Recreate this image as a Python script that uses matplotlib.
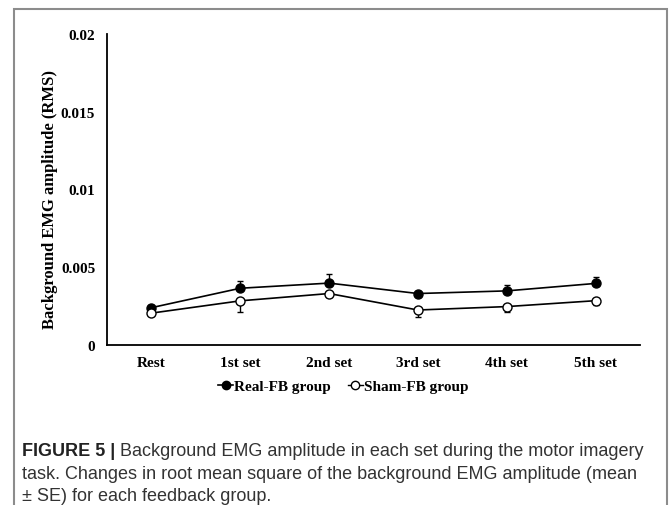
import matplotlib.pyplot as plt
from matplotlib.patches import Rectangle
from matplotlib.lines import Line2D

W, H = 669, 506

# Données
sets = ["Rest", "1st set", "2nd set", "3rd set", "4th set", "5th set"]
real_fb = [0.0024, 0.00365, 0.00398, 0.00331, 0.00348, 0.00396]
sham_fb = [0.00205, 0.00284, 0.00331, 0.00225, 0.00247, 0.00285]
real_err = [0.00015, 0.00045, 0.0006, 0.0001, 0.00037, 0.0004]
sham_err = [0.0001, 0.0007, 0.00025, 0.00048, 0.00035, 0.00030]
y_ticks = [0, 0.005, 0.01, 0.015, 0.02]
y_tick_labels = ["0", "0.005", "0.01", "0.015", "0.02"]

serif = ["Liberation Serif", "DejaVu Serif"]

fig = plt.figure(figsize=(W / 100, H / 100), dpi=100)

# Cadre gris autour de la figure
fig.patches.append(Rectangle((14 / W, -0.1), (667 - 14) / W, (H - 10) / H + 0.1,
                             transform=fig.transFigure, fill=False,
                             edgecolor="#8c8c8c", linewidth=1.5))

ax = fig.add_axes([107 / W, (H - 346) / H, 533 / W, (346 - 35) / H])

x = list(range(len(sets)))
zeros = [0] * len(sets)

ax.errorbar(x, real_fb, yerr=[zeros, real_err], fmt="-o", color="black",
            mfc="black", mec="black", ms=6.5, lw=1.2, capsize=2.5,
            elinewidth=1, capthick=1, zorder=3)
ax.errorbar(x, sham_fb, yerr=[sham_err, zeros], fmt="-o", color="black",
            mfc="white", mec="black", ms=6.5, lw=1.2, capsize=2.5,
            elinewidth=1, capthick=1, zorder=3)

ax.set_xlim(-0.5, len(sets) - 0.5)
ax.set_ylim(0, 0.02)
ax.set_yticks(y_ticks)
ax.set_yticklabels(y_tick_labels)
ax.set_xticks(x)
ax.set_xticklabels(sets)
ax.tick_params(length=0)
ax.tick_params(axis="x", pad=8)
ax.tick_params(axis="y", pad=8.5)
for lab in ax.get_xticklabels() + ax.get_yticklabels():
    lab.set_family(serif)
    lab.set_fontweight("bold")
    lab.set_fontsize(11)

for s in ["top", "right"]:
    ax.spines[s].set_visible(False)
for s in ["left", "bottom"]:
    ax.spines[s].set_linewidth(1.3)

fig.text(50 / W, 1 - 200 / H, "Background EMG amplitude (RMS)", rotation=90,
         ha="center", va="center", family=serif, fontweight="bold", fontsize=12)

# Légende
handles = [
    Line2D([], [], color="black", marker="o", mfc="black", ms=6, lw=1.2),
    Line2D([], [], color="black", marker="o", mfc="white", ms=6, lw=1.0),
]
fig.legend(handles, ["Real-FB group", "Sham-FB group"], loc="center",
           bbox_to_anchor=(343 / W, 1 - 387 / H), ncol=2, frameon=False,
           handlelength=1.0, handletextpad=0.05, columnspacing=1.1,
           prop={"family": serif, "weight": "bold", "size": 11})

# Légende de la figure
cap_font = ["Liberation Sans", "DejaVu Sans"]
lines = [
    "Background EMG amplitude in each set during the motor imagery",
    "task. Changes in root mean square of the background EMG amplitude (mean",
    "\u00b1 SE) for each feedback group.",
]
t = fig.text(22 / W, 1 - 452 / H, "FIGURE 5 | ", ha="left", va="center",
             family=cap_font, fontweight="bold", fontsize=13, color="#222222")
fig.canvas.draw()
bb = t.get_window_extent()
fig.text(bb.x1 / W, 1 - 452 / H, lines[0], ha="left", va="center",
         family=cap_font, fontsize=13, color="#333333")
fig.text(22 / W, 1 - 475 / H, lines[1], ha="left", va="center",
         family=cap_font, fontsize=13, color="#333333")
fig.text(22 / W, 1 - 497 / H, lines[2], ha="left", va="center",
         family=cap_font, fontsize=13, color="#333333")

fig.savefig("out.png", dpi=100)
